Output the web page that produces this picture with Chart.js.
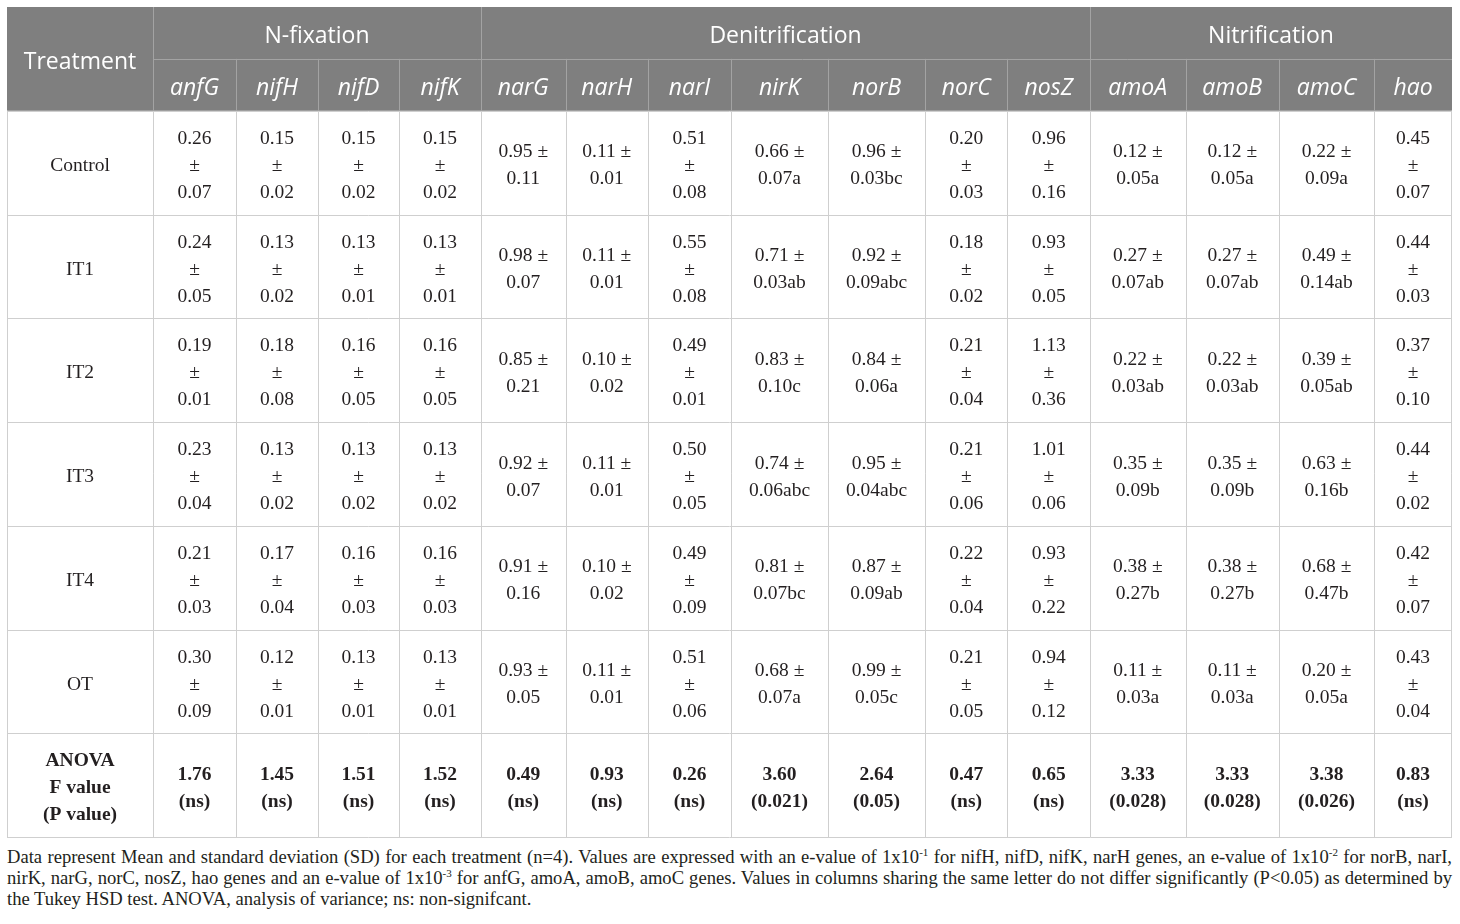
<!DOCTYPE html>
<html>
<head>
<meta charset="utf-8">
<title>Gene abundance table</title>
<script src="https://cdn.jsdelivr.net/npm/chart.js@4.4.1/dist/chart.umd.min.js"></script>
<style>
    html, body { margin: 0; padding: 0; background: #fff; }
    #wrap { position: absolute; left: 0; top: 0; width: 1460px; height: 840px; }
    #note {
        position: absolute; left: 7px; top: 846px; width: 1445px;
        font-family: "Liberation Serif", "DejaVu Serif", serif;
        font-size: 18.6px; line-height: 21px; color: #231f20;
    }
    #note div { text-align: justify; text-align-last: justify; white-space: nowrap; }
    #note div.last { text-align-last: left; }
    #note sup { font-size: 11px; line-height: 0; vertical-align: 7px; }
</style>
</head>
<body>
<div id="wrap"><canvas id="tableChart"></canvas></div>
<div id="note">
    <div>Data represent Mean and standard deviation (SD) for each treatment (n=4). Values are expressed with an e-value of 1x10<sup>-1</sup> for nifH, nifD, nifK, narH genes, an e-value of 1x10<sup>-2</sup> for norB, narI,</div>
    <div>nirK, narG, norC, nosZ, hao genes and an e-value of 1x10<sup>-3</sup> for anfG, amoA, amoB, amoC genes. Values in columns sharing the same letter do not differ significantly (P&lt;0.05) as determined by</div>
    <div class="last">the Tukey HSD test. ANOVA, analysis of variance; ns: non-signifcant.</div>
</div>
<script>
const treatments = ['Control', 'IT1', 'IT2', 'IT3', 'IT4', 'OT'];
const processes = ['N-fixation', 'Denitrification', 'Nitrification'];
const processSpan = [4, 7, 4];
const genes = ['anfG', 'nifH', 'nifD', 'nifK', 'narG', 'narH', 'narI', 'nirK', 'norB', 'norC', 'nosZ', 'amoA', 'amoB', 'amoC', 'hao'];

const controlMean = ['0.26', '0.15', '0.15', '0.15', '0.95', '0.11', '0.51', '0.66', '0.96', '0.20', '0.96', '0.12', '0.12', '0.22', '0.45'];
const controlSD   = ['0.07', '0.02', '0.02', '0.02', '0.11', '0.01', '0.08', '0.07a', '0.03bc', '0.03', '0.16', '0.05a', '0.05a', '0.09a', '0.07'];
const it1Mean = ['0.24', '0.13', '0.13', '0.13', '0.98', '0.11', '0.55', '0.71', '0.92', '0.18', '0.93', '0.27', '0.27', '0.49', '0.44'];
const it1SD   = ['0.05', '0.02', '0.01', '0.01', '0.07', '0.01', '0.08', '0.03ab', '0.09abc', '0.02', '0.05', '0.07ab', '0.07ab', '0.14ab', '0.03'];
const it2Mean = ['0.19', '0.18', '0.16', '0.16', '0.85', '0.10', '0.49', '0.83', '0.84', '0.21', '1.13', '0.22', '0.22', '0.39', '0.37'];
const it2SD   = ['0.01', '0.08', '0.05', '0.05', '0.21', '0.02', '0.01', '0.10c', '0.06a', '0.04', '0.36', '0.03ab', '0.03ab', '0.05ab', '0.10'];
const it3Mean = ['0.23', '0.13', '0.13', '0.13', '0.92', '0.11', '0.50', '0.74', '0.95', '0.21', '1.01', '0.35', '0.35', '0.63', '0.44'];
const it3SD   = ['0.04', '0.02', '0.02', '0.02', '0.07', '0.01', '0.05', '0.06abc', '0.04abc', '0.06', '0.06', '0.09b', '0.09b', '0.16b', '0.02'];
const it4Mean = ['0.21', '0.17', '0.16', '0.16', '0.91', '0.10', '0.49', '0.81', '0.87', '0.22', '0.93', '0.38', '0.38', '0.68', '0.42'];
const it4SD   = ['0.03', '0.04', '0.03', '0.03', '0.16', '0.02', '0.09', '0.07bc', '0.09ab', '0.04', '0.22', '0.27b', '0.27b', '0.47b', '0.07'];
const otMean = ['0.30', '0.12', '0.13', '0.13', '0.93', '0.11', '0.51', '0.68', '0.99', '0.21', '0.94', '0.11', '0.11', '0.20', '0.43'];
const otSD   = ['0.09', '0.01', '0.01', '0.01', '0.05', '0.01', '0.06', '0.07a', '0.05c', '0.05', '0.12', '0.03a', '0.03a', '0.05a', '0.04'];

const anovaF = ['1.76', '1.45', '1.51', '1.52', '0.49', '0.93', '0.26', '3.60', '2.64', '0.47', '0.65', '3.33', '3.33', '3.38', '0.83'];
const anovaP = ['ns', 'ns', 'ns', 'ns', 'ns', 'ns', 'ns', '0.021', '0.05', 'ns', 'ns', '0.028', '0.028', '0.026', 'ns'];
const anovaLabel = ['ANOVA', 'F value', '(P value)'];

// layout: column widths in px, which gene columns wrap the ± onto its own line
const colWidths = [146, 83, 82, 81, 82, 84.5, 82.5, 83, 97, 97, 82.5, 82.5, 95.5, 93.5, 95, 78];
const stacked = [true, true, true, true, false, false, true, false, false, true, true, false, false, false, true];

const means = [controlMean, it1Mean, it2Mean, it3Mean, it4Mean, otMean];
const sds = [controlSD, it1SD, it2SD, it3SD, it4SD, otSD];

const colEdges = [0];
colWidths.forEach(w => colEdges.push(colEdges[colEdges.length - 1] + w));
const tableWidth = colEdges[colEdges.length - 1];
// header rows take half a unit each, body rows one unit
const rowEdges = [0, 0.5, 1, 2, 3, 4, 5, 6, 7, 8];

const HEAD_BG = '#7f7f7f';
const HEAD_LINE = '#a3a3a3';
const BODY_LINE = '#cfcfcf';
const TEXT = '#231f20';
const SERIF = '"Liberation Serif", "DejaVu Serif", serif';
const SANS = '"Open Sans", "Noto Sans", sans-serif';
const LINE_H = 27;
const BODY_SHIFT = 3;   // canvas 'middle' sits a little high for these fonts
const HEAD_SHIFT = 4;

// one point per body cell (treatment label, genes, ANOVA row)
const cellPoints = [];
for (let r = 0; r < 7; r++) {
    for (let c = 0; c < colWidths.length; c++) {
        cellPoints.push({
            x: (colEdges[c] + colEdges[c + 1]) / 2,
            y: rowEdges[r + 2] + 0.5,
            row: r,
            col: c
        });
    }
}

function cellLines(row, col) {
    if (row === 6) {
        if (col === 0) return anovaLabel;
        return [anovaF[col - 1], '(' + anovaP[col - 1] + ')'];
    }
    if (col === 0) return [treatments[row]];
    const m = means[row][col - 1];
    const s = sds[row][col - 1];
    return stacked[col - 1] ? [m, '\u00b1', s] : [m + ' \u00b1', s];
}

function crisp(v) {
    return Math.round(v) + 0.5;
}

const tablePlugin = {
    id: 'tablePlugin',
    beforeDatasetsDraw(chart) {
        const ctx = chart.ctx;
        const x = chart.scales.x;
        const y = chart.scales.y;
        const X = v => x.getPixelForValue(v);
        const Y = v => y.getPixelForValue(v);

        ctx.save();

        // header background
        ctx.fillStyle = HEAD_BG;
        ctx.fillRect(X(0), Y(0), X(tableWidth) - X(0), Y(1) - Y(0));

        // body grid
        ctx.strokeStyle = BODY_LINE;
        ctx.lineWidth = 1;
        ctx.beginPath();
        for (let i = 2; i < rowEdges.length; i++) {
            ctx.moveTo(X(0), crisp(Y(rowEdges[i])));
            ctx.lineTo(X(tableWidth), crisp(Y(rowEdges[i])));
        }
        colEdges.forEach((e, i) => {
            const px = i === colEdges.length - 1 ? Math.round(X(e)) - 0.5 : crisp(X(e));
            ctx.moveTo(px, Y(1));
            ctx.lineTo(px, Y(8));
        });
        ctx.stroke();

        // header dividers
        ctx.strokeStyle = HEAD_LINE;
        ctx.beginPath();
        ctx.moveTo(X(colEdges[1]), crisp(Y(0.5)));
        ctx.lineTo(X(tableWidth), crisp(Y(0.5)));
        let start = 1;
        const groupEdges = [1];
        processSpan.forEach(n => { start += n; groupEdges.push(start); });
        colEdges.forEach((e, i) => {
            if (i === 0 || i === colEdges.length - 1) return;
            const full = groupEdges.includes(i);
            ctx.moveTo(crisp(X(e)), full ? Y(0) : Y(0.5));
            ctx.lineTo(crisp(X(e)), Y(1));
        });
        ctx.stroke();

        // header text
        ctx.fillStyle = '#ffffff';
        ctx.textAlign = 'center';
        ctx.textBaseline = 'middle';
        ctx.font = '23px ' + SANS;
        ctx.fillText('Treatment', (X(colEdges[0]) + X(colEdges[1])) / 2, Y(0.5) + HEAD_SHIFT);
        processes.forEach((p, i) => {
            const a = colEdges[groupEdges[i]];
            const b = colEdges[groupEdges[i + 1]];
            ctx.fillText(p, (X(a) + X(b)) / 2, Y(0.25) + HEAD_SHIFT);
        });
        ctx.font = 'italic 23px ' + SANS;
        genes.forEach((g, i) => {
            ctx.fillText(g, (X(colEdges[i + 1]) + X(colEdges[i + 2])) / 2, Y(0.75) + HEAD_SHIFT);
        });

        // body text at the dataset's point positions
        const meta = chart.getDatasetMeta(0);
        ctx.fillStyle = TEXT;
        meta.data.forEach((pt, i) => {
            const cell = cellPoints[i];
            const lines = cellLines(cell.row, cell.col);
            ctx.font = (cell.row === 6 ? '700 ' : '') + '19.5px ' + SERIF;
            lines.forEach((t, k) => {
                ctx.fillText(t, pt.x, pt.y + BODY_SHIFT + (k - (lines.length - 1) / 2) * LINE_H);
            });
        });

        ctx.restore();
    }
};

document.addEventListener('DOMContentLoaded', function() {
    const canvas = document.getElementById('tableChart');
    new Chart(canvas.getContext('2d'), {
        type: 'scatter',
        data: {
            datasets: [{
                data: cellPoints,
                pointRadius: 0,
                pointHoverRadius: 0
            }]
        },
        options: {
            responsive: true,
            maintainAspectRatio: false,
            animation: false,
            events: [],
            layout: { padding: { left: 7, top: 7, right: 8, bottom: 3 } },
            plugins: { legend: { display: false }, tooltip: { enabled: false } },
            scales: {
                x: { type: 'linear', min: 0, max: tableWidth, display: false },
                y: { type: 'linear', min: 0, max: 8, reverse: true, display: false }
            }
        },
        plugins: [tablePlugin]
    });
});
</script>
</body>
</html>
